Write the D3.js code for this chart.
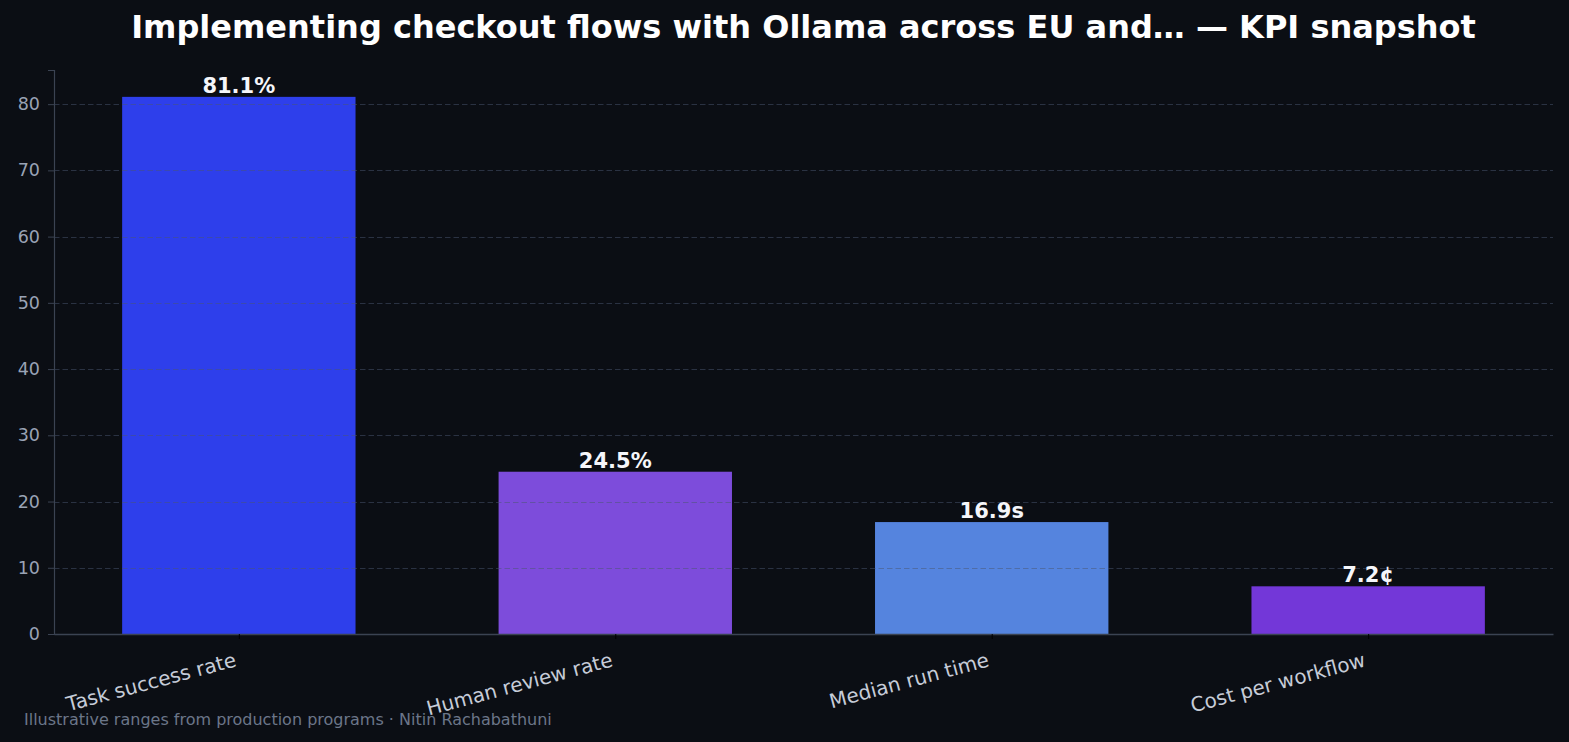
<!DOCTYPE html>
<html>
<head>
<meta charset="utf-8">
<script src="https://cdn.jsdelivr.net/npm/d3@7"></script>
<style>
  body { margin: 0; background: #0b0e14; }
  svg { display: block; font-family: "DejaVu Sans", sans-serif; }
</style>
</head>
<body>
<svg id="chart" width="1569" height="742"></svg>
<script>
const categories = ["Task success rate", "Human review rate", "Median run time", "Cost per workflow"];
const values = [81.1, 24.5, 16.9, 7.2];
const valueLabels = ["81.1%", "24.5%", "16.9s", "7.2¢"];
const barColors = ["#2e3feb", "#7d4cdb", "#5584de", "#7337d8"];
const yTicks = [0, 10, 20, 30, 40, 50, 60, 70, 80];

const width = 1569, height = 742;
const margin = { top: 70, right: 16, bottom: 108, left: 54 };
const svg = d3.select("#chart");

svg.append("rect").attr("width", width).attr("height", height).attr("fill", "#0b0e14");

// matplotlib-like category positions with 0.62 bar width
const barW = 0.62;
const pad = (categories.length - 1 + barW) * 0.05;
const x = d3.scaleLinear()
  .domain([-barW / 2 - pad, categories.length - 1 + barW / 2 + pad])
  .range([margin.left, width - margin.right]);
const y = d3.scaleLinear()
  .domain([0, d3.max(values) * 1.05])
  .range([height - margin.bottom, margin.top]);

// bars
svg.append("g")
  .selectAll("rect")
  .data(values)
  .join("rect")
  .attr("x", (d, i) => x(i - barW / 2))
  .attr("width", (d, i) => x(i + barW / 2) - x(i - barW / 2))
  .attr("y", d => y(d))
  .attr("height", d => y(0) - y(d))
  .attr("fill", (d, i) => barColors[i]);

// grid (drawn over bars)
svg.append("g")
  .selectAll("line")
  .data(yTicks.filter(t => t > 0))
  .join("line")
  .attr("x1", margin.left)
  .attr("x2", width - margin.right)
  .attr("y1", d => Math.round(y(d)) + 0.5)
  .attr("y2", d => Math.round(y(d)) + 0.5)
  .attr("stroke", "#4a5570")
  .attr("stroke-opacity", 0.5)
  .attr("stroke-dasharray", "5.5,3");

// y axis
const yAxis = svg.append("g")
  .attr("transform", `translate(${margin.left},0)`)
  .call(d3.axisLeft(y).tickValues(yTicks).tickSize(6).tickPadding(8));
yAxis.select(".domain").attr("stroke", "#3b4352").attr("stroke-width", 1.2);
yAxis.selectAll(".tick line").attr("stroke", "#3b4352");
yAxis.selectAll(".tick text")
  .attr("fill", "#9aa3b5")
  .attr("font-size", 17.5)
  .attr("font-family", "DejaVu Sans, sans-serif");

// x axis
const xAxis = svg.append("g")
  .attr("transform", `translate(0,${y(0)})`)
  .call(d3.axisBottom(x).tickValues(d3.range(categories.length)).tickFormat(i => categories[i]).tickSize(5).tickSizeOuter(0));
xAxis.select(".domain").attr("stroke", "#3b4352").attr("stroke-width", 1.5);
xAxis.selectAll(".tick line").attr("stroke", "#000000");
xAxis.selectAll(".tick text")
  .attr("fill", "#c6ccd8")
  .attr("font-size", 20)
  .attr("font-family", "DejaVu Sans, sans-serif")
  .attr("text-anchor", "end")
  .attr("dy", null)
  .attr("y", 0)
  .attr("transform", "translate(-2,32) rotate(-15)");

// value labels
svg.append("g")
  .selectAll("text")
  .data(values)
  .join("text")
  .attr("x", (d, i) => x(i))
  .attr("y", d => y(d) - 4)
  .attr("text-anchor", "middle")
  .attr("fill", "#f5f6fa")
  .attr("font-weight", "bold")
  .attr("font-size", 21)
  .text((d, i) => valueLabels[i]);

// title
svg.append("text")
  .attr("x", (margin.left + width - margin.right) / 2)
  .attr("y", 38)
  .attr("text-anchor", "middle")
  .attr("fill", "#ffffff")
  .attr("font-weight", "bold")
  .attr("font-size", 32)
  .text("Implementing checkout flows with Ollama across EU and… — KPI snapshot");

// footer
svg.append("text")
  .attr("x", 24)
  .attr("y", 725)
  .attr("fill", "#6b7689")
  .attr("font-size", 16)
  .text("Illustrative ranges from production programs · Nitin Rachabathuni");
</script>
</body>
</html>
